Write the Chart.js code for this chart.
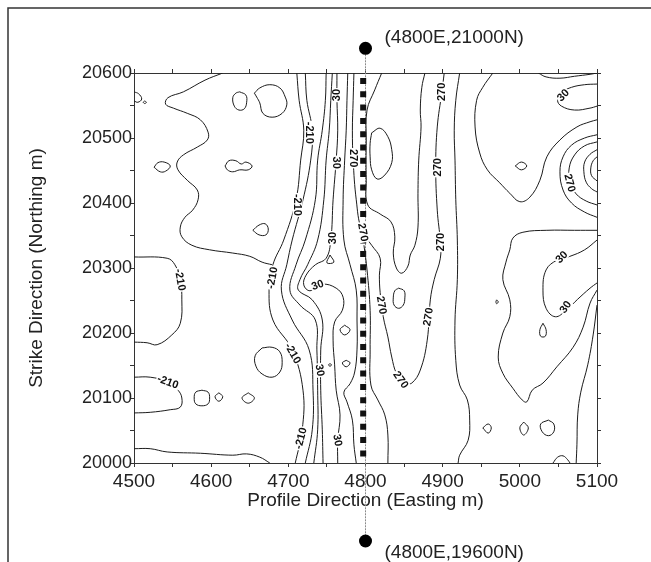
<!DOCTYPE html>
<html>
<head>
<meta charset="utf-8">
<script src="https://cdn.jsdelivr.net/npm/chart.js@4"></script>
<style>
  html, body { margin: 0; padding: 0; background: #fff; }
</style>
</head>
<body>
<canvas id="mapa" width="651" height="562"></canvas>
<script>
const FUENTE = '"Liberation Sans", Arial, sans-serif';

// ejes
const xTicks = [4500, 4550, 4600, 4650, 4700, 4750, 4800, 4850, 4900, 4950, 5000, 5050, 5100];
const xLabels = [4500, 4600, 4700, 4800, 4900, 5000, 5100];
const yTicks = [20000, 20050, 20100, 20150, 20200, 20250, 20300, 20350, 20400, 20450, 20500, 20550, 20600];
const yLabels = [20000, 20100, 20200, 20300, 20400, 20500, 20600];

// perfil 4800E (extremos fuera de escala, dibujados sobre y bajo el mapa)
const perfilEste = 4800;
const perfilNorte = [21000, 19600];
const perfilMarcasY = [20638, 19880];
const estacionesX = 4797;

// contornos (Este, Norte)
const c210Oeste = [[4615,20600],[4592,20589],[4564,20571],[4544,20562],[4541,20552],[4551,20546],[4569,20538],[4586,20528],[4596,20509],[4595,20497],[4582,20486],[4564,20474],[4556,20463],[4557,20451],[4569,20435],[4582,20420],[4583,20405],[4576,20389],[4566,20378],[4560,20363],[4562,20348],[4575,20335],[4598,20328],[4628,20323],[4650,20318],[4666,20309],[4679,20305]];
const cBanda1 = [[4711,20600],[4714,20558],[4720,20512],[4716,20466],[4710,20405],[4694,20343],[4680,20305],[4675,20266],[4680,20220],[4705,20174],[4719,20112],[4718,20051],[4709,20000]];
const cBanda2 = [[4722,20600],[4724,20558],[4731,20512],[4729,20466],[4719,20405],[4705,20343],[4698,20305],[4691,20266],[4705,20220],[4727,20174],[4732,20112],[4731,20051],[4722,20000]];
const cBanda3 = [[4749,20600],[4748,20558],[4744,20512],[4738,20466],[4735,20405],[4722,20343],[4710,20305],[4702,20266],[4715,20243],[4735,20220],[4737,20174],[4738,20112],[4738,20051],[4733,20000]];
const cBanda4 = [[4757,20600],[4755,20558],[4753,20512],[4749,20466],[4746,20405],[4738,20343],[4725,20305],[4715,20282],[4713,20266],[4731,20251],[4744,20220],[4742,20174],[4742,20112],[4744,20051],[4745,20000]];
const c30Banda = [[4763,20600],[4763,20558],[4764,20512],[4762,20466],[4758,20405],[4755,20343],[4749,20315],[4735,20305],[4723,20289],[4720,20274],[4728,20265],[4744,20275],[4762,20269],[4771,20255],[4770,20235],[4760,20217],[4758,20189],[4760,20151],[4762,20112],[4767,20074],[4764,20035],[4764,20000]];
const cBanda6 = [[4777,20600],[4776,20558],[4775,20512],[4773,20466],[4771,20405],[4772,20343],[4780,20305],[4788,20266],[4789,20220],[4789,20174],[4786,20140],[4780,20122],[4772,20109],[4776,20094],[4783,20066],[4785,20028],[4788,20000]];
const c270Grande = [[4785,20600],[4784,20558],[4783,20512],[4784,20466],[4788,20405],[4795,20358],[4808,20335],[4819,20315],[4818,20289],[4819,20262],[4823,20225],[4829,20194],[4834,20163],[4840,20138],[4850,20122],[4860,20123],[4871,20143],[4880,20189],[4884,20251],[4889,20282],[4897,20315],[4897,20340],[4893,20389],[4891,20455],[4893,20517],[4899,20571],[4902,20600]];
const c270Interior = [[4821,20600],[4812,20574],[4802,20543],[4801,20497],[4801,20435],[4803,20397],[4819,20383],[4833,20371],[4838,20348],[4836,20323],[4840,20300],[4847,20292],[4855,20303],[4858,20320],[4864,20335],[4868,20363],[4868,20415],[4869,20466],[4872,20517],[4871,20543],[4873,20578],[4877,20600]];
const cIslaPerfil = [[4808,20508],[4819,20515],[4829,20502],[4834,20482],[4834,20462],[4825,20443],[4815,20437],[4808,20451],[4806,20471],[4806,20492],[4808,20508]];
const cPerfilEste = [[4798,20335],[4802,20297],[4806,20235],[4806,20174],[4807,20120],[4816,20097],[4825,20074],[4829,20043],[4829,20000]];
const cEste1 = [[4922,20600],[4917,20558],[4915,20512],[4916,20466],[4917,20405],[4919,20343],[4919,20282],[4916,20220],[4917,20158],[4922,20120],[4932,20097],[4935,20066],[4933,20035],[4922,20012],[4920,20000]];
const cEste2 = [[4965,20600],[4952,20578],[4944,20558],[4942,20517],[4948,20477],[4958,20451],[4974,20431],[4987,20415],[5000,20402],[5013,20409],[5026,20435],[5035,20471],[5052,20497],[5074,20517],[5091,20525],[5100,20528]];
const cAnillo1 = [[5100,20505],[5084,20500],[5067,20489],[5056,20471],[5052,20448],[5056,20420],[5067,20400],[5084,20386],[5100,20378]];
const cAnillo2 = [[5100,20494],[5084,20488],[5071,20474],[5064,20454],[5065,20432],[5073,20414],[5086,20403],[5100,20397]];
const cAnillo3 = [[5100,20482],[5091,20475],[5084,20463],[5083,20448],[5086,20432],[5093,20422],[5100,20417]];
const cAnillo4 = [[5100,20471],[5095,20465],[5092,20454],[5093,20442],[5100,20434]];
const cNorEste = [[5024,20600],[5034,20594],[5052,20592],[5071,20595],[5091,20598],[5100,20600]];
const c30NorEste = [[5100,20583],[5084,20582],[5067,20578],[5056,20571],[5049,20558],[5054,20549],[5071,20543],[5091,20546],[5100,20549]];
const cSurEste = [[5100,20358],[5071,20358],[5035,20358],[5004,20355],[4991,20346],[4987,20328],[4982,20309],[4978,20282],[4987,20251],[4987,20225],[4978,20200],[4972,20163],[4978,20138],[4991,20115],[5003,20097],[5009,20094],[5016,20112],[5030,20123],[5048,20148],[5069,20178],[5082,20209],[5091,20246],[5100,20266]];
const c30SurEste = [[5100,20343],[5084,20328],[5065,20318],[5048,20312],[5034,20297],[5030,20266],[5034,20238],[5046,20225],[5060,20235],[5075,20252],[5091,20269],[5100,20277]];
const cBordeEste = [[5100,20243],[5095,20197],[5088,20151],[5079,20109],[5075,20074],[5074,20028],[5073,20000]];
const c210Norte = [[4500,20317],[4543,20315],[4553,20305],[4560,20282],[4562,20251],[4560,20215],[4549,20197],[4530,20182],[4517,20185],[4500,20186]];
const c210Sur = [[4500,20132],[4521,20132],[4543,20125],[4557,20112],[4562,20100],[4560,20086],[4547,20082],[4521,20078],[4500,20077]];
const cBaseOeste = [[4500,20022],[4521,20022],[4543,20017],[4586,20015],[4628,20012],[4646,20014],[4663,20009],[4676,20000]];
const cBorde1 = [[4500,20571],[4506,20568],[4510,20560],[4505,20555],[4500,20557]];

// islas cerradas
const islas = [
  [[4514,20557],[4516,20555],[4514,20553],[4512,20555],[4514,20557]],
  [[4637,20571],[4645,20566],[4646,20555],[4643,20545],[4636,20543],[4630,20549],[4628,20562],[4632,20569],[4637,20571]],
  [[4656,20569],[4663,20577],[4676,20582],[4689,20577],[4696,20563],[4698,20551],[4692,20538],[4679,20532],[4667,20538],[4663,20554],[4659,20563],[4656,20569]],
  [[4526,20455],[4531,20462],[4539,20463],[4547,20457],[4541,20449],[4534,20448],[4526,20455]],
  [[4618,20457],[4623,20465],[4632,20465],[4639,20460],[4645,20463],[4653,20457],[4648,20451],[4637,20451],[4628,20448],[4621,20451],[4618,20457]],
  [[4654,20358],[4662,20366],[4670,20368],[4674,20360],[4671,20351],[4662,20351],[4654,20358]],
  [[4666,20177],[4679,20178],[4689,20171],[4692,20155],[4689,20140],[4679,20132],[4666,20137],[4658,20149],[4657,20165],[4666,20177]],
  [[4588,20112],[4596,20109],[4598,20100],[4596,20091],[4588,20088],[4580,20091],[4578,20100],[4580,20109],[4588,20112]],
  [[4610,20108],[4615,20102],[4610,20095],[4605,20102],[4610,20108]],
  [[4648,20108],[4656,20100],[4648,20092],[4640,20100],[4648,20108]],
  [[4773,20212],[4780,20205],[4773,20197],[4767,20205],[4773,20212]],
  [[4775,20158],[4780,20154],[4775,20148],[4770,20154],[4775,20158]],
  [[4754,20153],[4756,20151],[4754,20149],[4752,20151],[4754,20153]],
  [[4754,20320],[4759,20309],[4750,20308],[4754,20320]],
  [[4843,20269],[4850,20265],[4851,20254],[4849,20243],[4843,20238],[4837,20243],[4836,20254],[4838,20265],[4843,20269]],
  [[4994,20457],[5002,20463],[5009,20457],[5002,20451],[4994,20457]],
  [[4970,20251],[4972,20248],[4970,20245],[4969,20248],[4970,20251]],
  [[5030,20215],[5034,20205],[5033,20195],[5027,20195],[5026,20205],[5030,20215]],
  [[4952,20054],[4959,20060],[4963,20054],[4959,20046],[4952,20054]],
  [[5005,20063],[5011,20054],[5005,20043],[5000,20054],[5005,20063]],
  [[5037,20066],[5044,20060],[5044,20048],[5037,20042],[5029,20048],[5027,20060],[5037,20066]],
  [[5043,20000],[5049,20009],[5056,20011],[5062,20005],[5065,20000]]
];

const contornos = [c210Oeste, cBanda1, cBanda2, cBanda3, cBanda4, c30Banda, cBanda6, c270Grande, c270Interior,
  cIslaPerfil, cPerfilEste, cEste1, cEste2, cAnillo1, cAnillo2, cAnillo3, cAnillo4, cNorEste, c30NorEste,
  cSurEste, c30SurEste, cBordeEste, c210Norte, c210Sur, cBaseOeste, cBorde1, ...islas];

// etiquetas de contorno: texto, Este, Norte, giro en grados
const etiquetas = [
  ['-210', 4728, 20508, 90], ['-210', 4712, 20397, 90], ['30', 4763, 20566, -90], ['30', 4763, 20462, 90],
  ['270', 4784, 20469, 90], ['30', 4757, 20346, -90], ['270', 4797, 20355, 80], ['270', 4898, 20571, -90],
  ['270', 4893, 20455, -90], ['270', 4897, 20340, -90], ['270', 4821, 20243, 80], ['270', 4846, 20128, 55],
  ['270', 4881, 20225, -80], ['30', 5056, 20566, -45], ['270', 5065, 20431, 75], ['30', 5054, 20317, -45],
  ['30', 5059, 20240, -55], ['-210', 4679, 20285, -80], ['-210', 4706, 20169, 60], ['-210', 4716, 20038, -75],
  ['30', 4738, 20274, -20], ['30', 4741, 20143, 80], ['30', 4764, 20035, 80], ['-210', 4560, 20282, 80],
  ['-210', 4544, 20125, 20]
];

const datasets = contornos.map(c => ({
  data: c.map(([x, y]) => ({ x, y })),
  showLine: true,
  borderColor: '#1c1c1c',
  borderWidth: 1,
  pointRadius: 0,
  tension: 0.4,
  fill: false
}));

// estaciones sobre el perfil
datasets.push({
  data: [{ x: estacionesX, y: 20600 }, { x: estacionesX, y: 20000 }],
  showLine: true, borderColor: '#111', borderWidth: 6, borderDash: [6, 7.3], borderDashOffset: 8.3,
  borderCapStyle: 'butt', pointRadius: 0
});
// linea del perfil entre sus extremos
datasets.push({
  data: perfilMarcasY.map(y => ({ x: perfilEste, y })),
  showLine: true, borderColor: '#8a8a8a', borderWidth: 1, borderDash: [2, 1],
  pointRadius: 0, clip: false
});

const marco = {
  id: 'marco',
  beforeDraw(chart) {
    const ctx = chart.ctx;
    ctx.save();
    ctx.fillStyle = '#fff';
    ctx.fillRect(0, 0, chart.width, chart.height);
    ctx.strokeStyle = '#333';
    ctx.lineWidth = 1.5;
    ctx.beginPath();
    ctx.moveTo(8, chart.height);
    ctx.lineTo(8, 8);
    ctx.lineTo(chart.width, 8);
    ctx.stroke();
    ctx.restore();
  }
};

const rotulos = {
  id: 'rotulos',
  afterDatasetsDraw(chart) {
    const { ctx, scales: { x, y } } = chart;
    ctx.save();
    ctx.font = 'bold 11px ' + FUENTE;
    ctx.textAlign = 'center';
    ctx.textBaseline = 'middle';
    etiquetas.forEach(([t, e, n, giro]) => {
      ctx.save();
      ctx.translate(x.getPixelForValue(e), y.getPixelForValue(n));
      ctx.rotate(giro * Math.PI / 180);
      const w = ctx.measureText(t).width;
      ctx.fillStyle = '#fff';
      ctx.fillRect(-w / 2 - 1, -5, w + 2, 10);
      ctx.fillStyle = '#111';
      ctx.fillText(t, 0, 0.5);
      ctx.restore();
    });
    // extremos del perfil: marca y coordenadas
    ctx.font = '19px ' + FUENTE;
    ctx.textAlign = 'left';
    const px = x.getPixelForValue(perfilEste);
    perfilNorte.forEach((n, i) => {
      const py = y.getPixelForValue(perfilMarcasY[i]);
      ctx.fillStyle = '#000';
      ctx.beginPath();
      ctx.arc(px, py, 6.5, 0, Math.PI * 2);
      ctx.fill();
      ctx.fillStyle = '#222';
      ctx.fillText(`(${perfilEste}E,${n}N)`, px + 19, py + (i === 0 ? -11 : 12));
    });
    ctx.restore();
  }
};

const grid = { drawOnChartArea: false, drawTicks: true, tickLength: 4, color: '#333', tickColor: '#333' };
const borde = { color: '#333', width: 1 };

new Chart(document.getElementById('mapa'), {
  type: 'scatter',
  data: { datasets },
  options: {
    responsive: false,
    animation: false,
    events: [],
    layout: { padding: 0 },
    plugins: { legend: { display: false }, tooltip: { enabled: false } },
    scales: {
      x: {
        type: 'linear', position: 'bottom', min: 4500, max: 5100,
        afterBuildTicks: s => { s.ticks = xTicks.map(v => ({ value: v })); },
        afterFit: s => { s.height = 99; },
        ticks: { autoSkip: false, maxRotation: 0, padding: 3, color: '#222', font: { size: 19, family: FUENTE },
          callback: v => xLabels.includes(v) ? String(v) : '' },
        grid, border: borde,
        title: { display: true, text: 'Profile Direction (Easting m)', color: '#222',
          font: { size: 19, family: FUENTE }, padding: { top: 0, bottom: 50 } }
      },
      x2: {
        type: 'linear', position: 'top', min: 4500, max: 5100,
        afterBuildTicks: s => { s.ticks = xTicks.map(v => ({ value: v })); },
        afterFit: s => { s.height = 73; },
        ticks: { display: false }, grid, border: borde
      },
      y: {
        type: 'linear', position: 'left', min: 20000, max: 20600,
        afterBuildTicks: s => { s.ticks = yTicks.map(v => ({ value: v })); },
        afterFit: s => { s.width = 134; },
        ticks: { autoSkip: false, padding: -2, color: '#222', font: { size: 18, family: FUENTE },
          callback: v => yLabels.includes(v) ? String(v) : '' },
        grid, border: borde,
        title: { display: true, text: 'Strike Direction (Northing m)', color: '#222',
          font: { size: 19, family: FUENTE }, padding: { top: 25, bottom: 0 } }
      },
      y2: {
        type: 'linear', position: 'right', min: 20000, max: 20600,
        afterBuildTicks: s => { s.ticks = yTicks.map(v => ({ value: v })); },
        afterFit: s => { s.width = 54; },
        ticks: { display: false }, grid, border: borde
      }
    }
  },
  plugins: [marco, rotulos]
});
</script>
</body>
</html>
